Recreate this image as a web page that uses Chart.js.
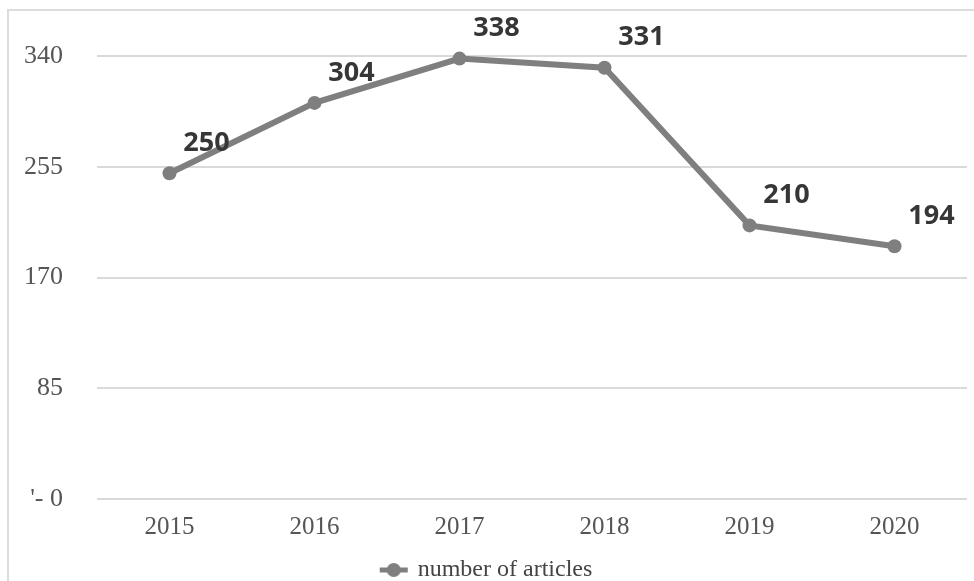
<!DOCTYPE html>
<html>
<head>
<meta charset="utf-8">
<script src="https://cdn.jsdelivr.net/npm/chart.js@4.4.1/dist/chart.umd.min.js"></script>
<style>
    html, body { margin: 0; padding: 0; background: #fff; overflow: hidden; }
    #frame {
        position: absolute; left: 7px; top: 9px; width: 990px; height: 600px;
        border: 2px solid #dcdcdc; box-sizing: border-box;
    }
    #wrap { position: absolute; left: 0; top: 0; width: 974px; height: 581px; }
</style>
</head>
<body>
<div id="frame"></div>
<div id="wrap"><canvas id="articlesChart"></canvas></div>
<script>
const years = ['2015', '2016', '2017', '2018', '2019', '2020'];
const articleCounts = [250, 304, 338, 331, 210, 194];
const tickValues = [0, 85, 170, 255, 340];
const tickLabels = ['\'- 0', '85', '170', '255', '340'];
const seriesName = 'number of articles';

const lineGray = '#7f7f7f';
const serif = '"Liberation Serif", "Times New Roman", serif';

// legend marker: short line with a dot, like the spreadsheet legend
const marker = document.createElement('canvas');
marker.width = 30;
marker.height = 16;
const mctx = marker.getContext('2d');
mctx.strokeStyle = lineGray;
mctx.lineWidth = 5;
mctx.beginPath();
mctx.moveTo(1, 8);
mctx.lineTo(29, 8);
mctx.stroke();
mctx.fillStyle = lineGray;
mctx.beginPath();
mctx.arc(15, 8, 7, 0, Math.PI * 2);
mctx.fill();

// keep the legend strip short so the plot reaches down like the original
const legendHeight = {
    id: 'legendHeight',
    beforeInit(chart) {
        const legend = chart.legend;
        if (!legend) return;
        const origFit = legend.fit;
        legend.fit = function () {
            origFit.call(this);
            this.height = 30;
        };
    }
};

const valueLabels = {
    id: 'valueLabels',
    afterDatasetsDraw(chart) {
        const c = chart.ctx;
        const meta = chart.getDatasetMeta(0);
        c.save();
        c.font = 'bold 27px "Open Sans", sans-serif';
        c.fillStyle = '#363636';
        c.textAlign = 'center';
        c.textBaseline = 'middle';
        meta.data.forEach((pt, i) => {
            c.fillText(String(articleCounts[i]), pt.x + 37, pt.y - 30);
        });
        c.restore();
    }
};

const ctx = document.getElementById('articlesChart').getContext('2d');
new Chart(ctx, {
    type: 'line',
    data: {
        labels: years,
        datasets: [{
            label: seriesName,
            data: articleCounts,
            borderColor: lineGray,
            backgroundColor: lineGray,
            borderWidth: 6,
            pointRadius: 7,
            pointBackgroundColor: lineGray,
            pointBorderWidth: 0,
            tension: 0,
            clip: false
        }]
    },
    options: {
        responsive: true,
        maintainAspectRatio: false,
        animation: false,
        layout: { padding: { top: 56, right: 0, left: 0, bottom: 0 } },
        plugins: {
            legend: {
                position: 'bottom',
                labels: {
                    usePointStyle: true,
                    pointStyle: marker,
                    color: '#444',
                    font: { family: serif, size: 24 },
                    padding: 7
                }
            },
            tooltip: { enabled: false }
        },
        scales: {
            y: {
                min: 0,
                max: 340,
                afterBuildTicks: scale => {
                    scale.ticks = tickValues.map(v => ({ value: v }));
                },
                afterFit: scale => { scale.width = 97; },
                ticks: {
                    callback: value => tickLabels[tickValues.indexOf(value)],
                    color: '#555',
                    padding: 34,
                    font: { family: serif, size: 26 }
                },
                grid: { color: '#d9d9d9', lineWidth: 2, drawTicks: false },
                border: { display: false }
            },
            x: {
                offset: true,
                afterFit: scale => { scale.height = 52; },
                ticks: {
                    color: '#555',
                    padding: 5,
                    font: { family: serif, size: 25 }
                },
                grid: { display: false },
                border: { display: false }
            }
        }
    },
    plugins: [legendHeight, valueLabels]
});
</script>
</body>
</html>
